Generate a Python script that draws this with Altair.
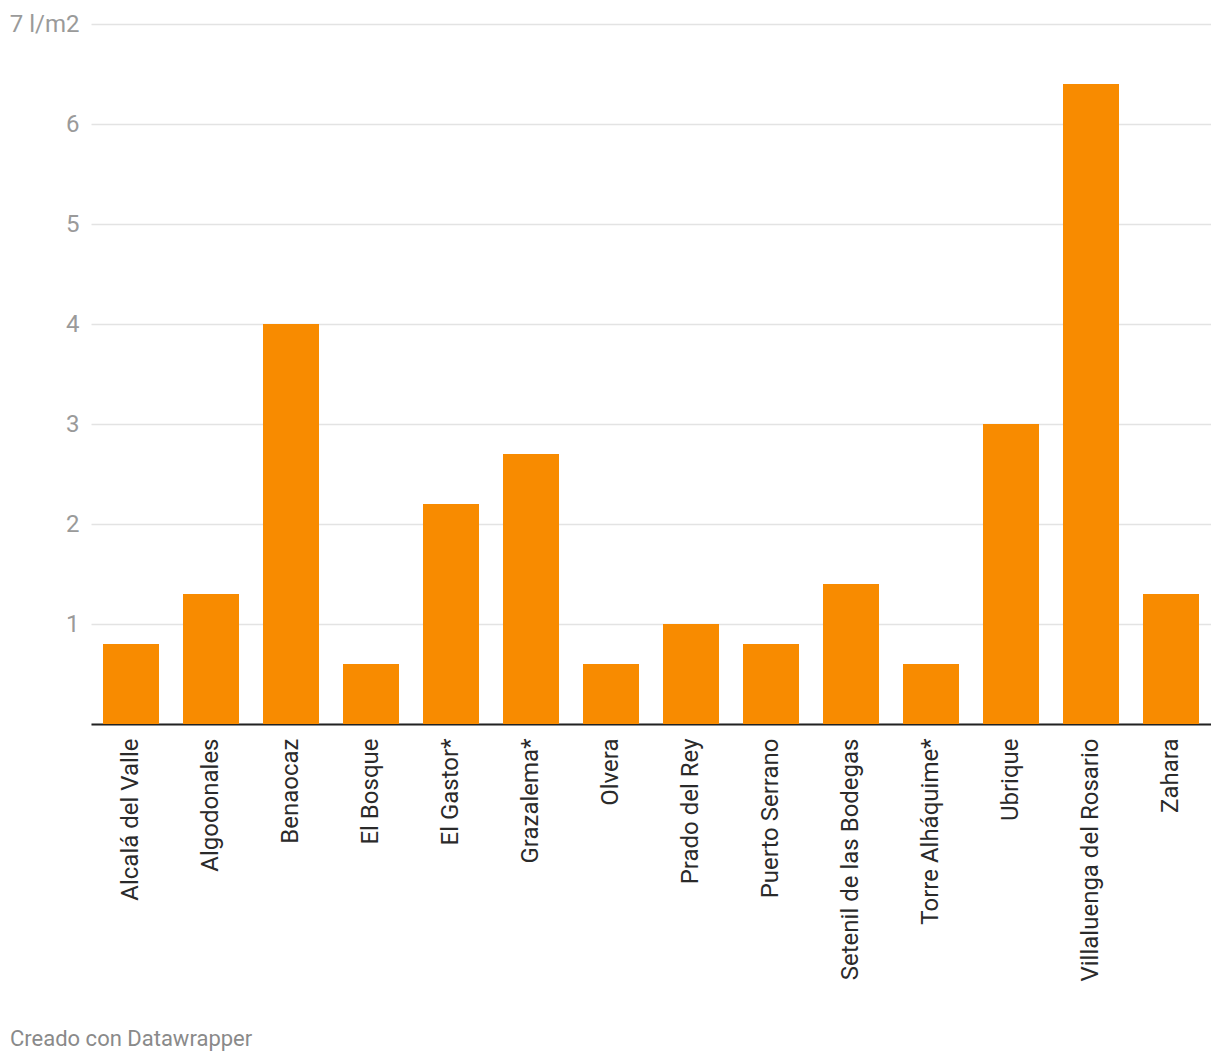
import altair as alt
import pandas as pd

towns = ["Alcalá del Valle", "Algodonales", "Benaocaz", "El Bosque", "El Gastor*",
         "Grazalema*", "Olvera", "Prado del Rey", "Puerto Serrano",
         "Setenil de las Bodegas", "Torre Alháquime*", "Ubrique",
         "Villaluenga del Rosario", "Zahara"]
rain = [0.8, 1.3, 4.0, 0.6, 2.2, 2.7, 0.6, 1.0, 0.8, 1.4, 0.6, 3.0, 6.4, 1.3]
y_ticks = [0, 1, 2, 3, 4, 5, 6, 7]
footer = ["Creado con Datawrapper"]

df = pd.DataFrame({"town": towns, "rain": rain})

bars = alt.Chart(df).mark_bar(color="#f88b00").encode(
    x=alt.X("town:N", sort=towns, title=None,
            scale=alt.Scale(paddingInner=0.3, paddingOuter=0.15),
            axis=alt.Axis(labelAngle=-90, labelAlign="right", labelBaseline="middle",
                          labelFontSize=24, labelColor="#2a2a2a", labelFont="Roboto",
                          labelPadding=14, ticks=False, domainColor="#222222",
                          domainWidth=2, labelLimit=400)),
    y=alt.Y("rain:Q", title=None,
            scale=alt.Scale(domain=[0, 7], nice=False),
            axis=alt.Axis(values=y_ticks, labelFontSize=24, labelColor="#9a9a9a",
                          labelFont="Roboto", ticks=False, domain=False,
                          gridColor="#e3e3e3", gridWidth=1.5, labelPadding=12,
                          labelExpr="datum.value == 7 ? '7 l/m2' : (datum.value == 0 ? '' : datum.label)")),
)

foot = alt.Chart(pd.DataFrame({"t": footer})).mark_text(
    align="left", baseline="alphabetic", fontSize=22, font="Roboto", color="#8a8a8a"
).encode(text="t:N", x=alt.value(-81), y=alt.value(1022))

chart = alt.layer(bars, foot).properties(
    width=1120, height=700,
    autosize=alt.AutoSizeParams(type="none"),
    padding={"left": 83, "top": 16, "right": 0, "bottom": 330},
).configure_view(stroke=None)

chart.save("out.html", embed_options={"renderer": "svg", "actions": False})
